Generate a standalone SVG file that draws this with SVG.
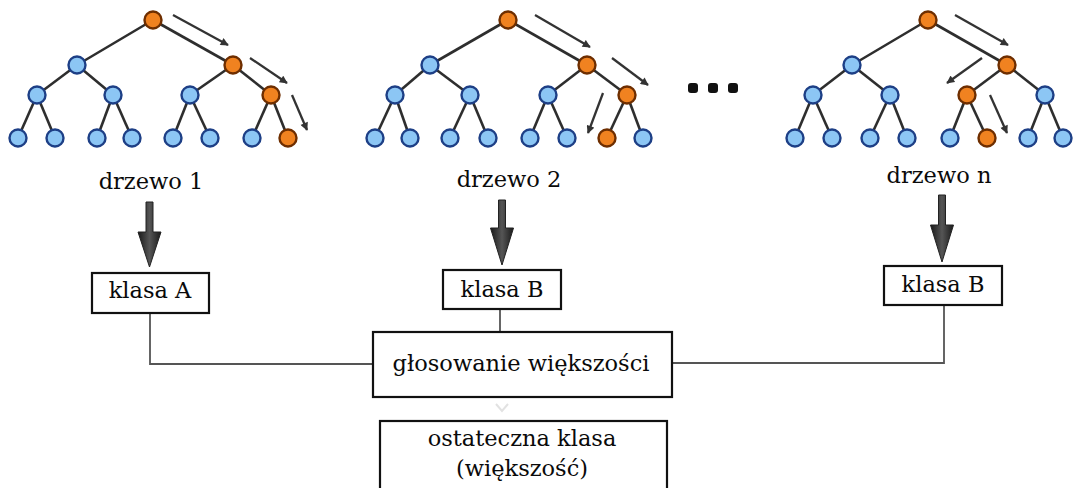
<svg xmlns="http://www.w3.org/2000/svg" width="1073" height="488" viewBox="0 0 1073 488">
<style>
.e{stroke:#2e2e2e;stroke-width:2.6;fill:none}
.b{fill:#8cc6f4;stroke:#1d3f86;stroke-width:2.4}
.o{fill:#f08220;stroke:#6e2e00;stroke-width:2.4}
.ta{stroke:#333;stroke-width:2.3;fill:none;marker-end:url(#ah)}
.t{font-family:"DejaVu Serif","Liberation Serif",serif;font-size:22.5px;fill:#0a0a0a;text-anchor:middle}
.box{fill:#fff;stroke:#111;stroke-width:2.2}
.c{stroke:#555;stroke-width:1.8;fill:none}
.big{fill:url(#g);stroke:#222;stroke-width:1}
</style>
<defs>
<marker id="ah" viewBox="0 0 10 10" refX="9" refY="5" markerWidth="9" markerHeight="8" orient="auto" markerUnits="userSpaceOnUse">
<path d="M0,0 L10,5 L0,10 z" fill="#333"/>
</marker>
<linearGradient id="g" x1="0" x2="1" y1="0" y2="0">
<stop offset="0" stop-color="#1a1a1a"/>
<stop offset="0.5" stop-color="#555"/>
<stop offset="1" stop-color="#1a1a1a"/>
</linearGradient>
</defs>
<rect width="1073" height="488" fill="#fff"/>

<g id="tree1">
<g class="e">
<line x1="153" y1="20" x2="77" y2="65"/><line x1="153" y1="20" x2="233" y2="65"/>
<line x1="77" y1="65" x2="37" y2="95"/><line x1="77" y1="65" x2="113" y2="95"/>
<line x1="233" y1="65" x2="190" y2="95"/><line x1="233" y1="65" x2="271" y2="95"/>
<line x1="37" y1="95" x2="18" y2="138"/><line x1="37" y1="95" x2="55" y2="138"/>
<line x1="113" y1="95" x2="97" y2="138"/><line x1="113" y1="95" x2="132" y2="138"/>
<line x1="190" y1="95" x2="173" y2="138"/><line x1="190" y1="95" x2="210" y2="138"/>
<line x1="271" y1="95" x2="252" y2="138"/><line x1="271" y1="95" x2="288" y2="138"/>
</g>
<circle class="o" cx="153" cy="20" r="8.5"/>
<circle class="b" cx="77" cy="65" r="8.5"/><circle class="o" cx="233" cy="65" r="8.5"/>
<circle class="b" cx="37" cy="95" r="8.5"/><circle class="b" cx="113" cy="95" r="8.5"/><circle class="b" cx="190" cy="95" r="8.5"/><circle class="o" cx="271" cy="95" r="8.5"/>
<circle class="b" cx="18" cy="138" r="8.5"/><circle class="b" cx="55" cy="138" r="8.5"/><circle class="b" cx="97" cy="138" r="8.5"/><circle class="b" cx="132" cy="138" r="8.5"/>
<circle class="b" cx="173" cy="138" r="8.5"/><circle class="b" cx="210" cy="138" r="8.5"/><circle class="b" cx="252" cy="138" r="8.5"/><circle class="o" cx="288" cy="138" r="8.5"/>
<line class="ta" x1="173" y1="15" x2="228" y2="45"/>
<line class="ta" x1="250" y1="58" x2="287" y2="83"/>
<line class="ta" x1="292" y1="95" x2="307" y2="130"/>
<text class="t" x="151" y="189">drzewo 1</text>
</g>

<g id="tree2">
<g class="e">
<line x1="508" y1="20" x2="430" y2="65"/><line x1="508" y1="20" x2="587" y2="65"/>
<line x1="430" y1="65" x2="395" y2="95"/><line x1="430" y1="65" x2="470" y2="95"/>
<line x1="587" y1="65" x2="548" y2="95"/><line x1="587" y1="65" x2="627" y2="95"/>
<line x1="395" y1="95" x2="375" y2="138"/><line x1="395" y1="95" x2="410" y2="138"/>
<line x1="470" y1="95" x2="450" y2="138"/><line x1="470" y1="95" x2="488" y2="138"/>
<line x1="548" y1="95" x2="530" y2="138"/><line x1="548" y1="95" x2="567" y2="138"/>
<line x1="627" y1="95" x2="607" y2="138"/><line x1="627" y1="95" x2="643" y2="138"/>
</g>
<circle class="o" cx="508" cy="20" r="8.5"/>
<circle class="b" cx="430" cy="65" r="8.5"/><circle class="o" cx="587" cy="65" r="8.5"/>
<circle class="b" cx="395" cy="95" r="8.5"/><circle class="b" cx="470" cy="95" r="8.5"/><circle class="b" cx="548" cy="95" r="8.5"/><circle class="o" cx="627" cy="95" r="8.5"/>
<circle class="b" cx="375" cy="138" r="8.5"/><circle class="b" cx="410" cy="138" r="8.5"/><circle class="b" cx="450" cy="138" r="8.5"/><circle class="b" cx="488" cy="138" r="8.5"/>
<circle class="b" cx="530" cy="138" r="8.5"/><circle class="b" cx="567" cy="138" r="8.5"/><circle class="o" cx="607" cy="138" r="8.5"/><circle class="b" cx="643" cy="138" r="8.5"/>
<line class="ta" x1="535" y1="15" x2="590" y2="47"/>
<line class="ta" x1="612" y1="58" x2="648" y2="85"/>
<line class="ta" x1="603" y1="93" x2="588" y2="133"/>
<text class="t" x="509" y="187">drzewo 2</text>
</g>

<g id="ellipsis" fill="#111">
<rect x="688" y="83" width="10" height="10" rx="3"/>
<rect x="708" y="83" width="10" height="10" rx="3"/>
<rect x="728" y="83" width="10" height="10" rx="3"/>
</g>

<g id="treen">
<g class="e">
<line x1="928" y1="20" x2="852" y2="65"/><line x1="928" y1="20" x2="1007" y2="65"/>
<line x1="852" y1="65" x2="813" y2="95"/><line x1="852" y1="65" x2="890" y2="95"/>
<line x1="1007" y1="65" x2="967" y2="95"/><line x1="1007" y1="65" x2="1045" y2="95"/>
<line x1="813" y1="95" x2="795" y2="138"/><line x1="813" y1="95" x2="832" y2="138"/>
<line x1="890" y1="95" x2="870" y2="138"/><line x1="890" y1="95" x2="907" y2="138"/>
<line x1="967" y1="95" x2="950" y2="138"/><line x1="967" y1="95" x2="987" y2="138"/>
<line x1="1045" y1="95" x2="1028" y2="138"/><line x1="1045" y1="95" x2="1063" y2="138"/>
</g>
<circle class="o" cx="928" cy="20" r="8.5"/>
<circle class="b" cx="852" cy="65" r="8.5"/><circle class="o" cx="1007" cy="65" r="8.5"/>
<circle class="b" cx="813" cy="95" r="8.5"/><circle class="b" cx="890" cy="95" r="8.5"/><circle class="o" cx="967" cy="95" r="8.5"/><circle class="b" cx="1045" cy="95" r="8.5"/>
<circle class="b" cx="795" cy="138" r="8.5"/><circle class="b" cx="832" cy="138" r="8.5"/><circle class="b" cx="870" cy="138" r="8.5"/><circle class="b" cx="907" cy="138" r="8.5"/>
<circle class="b" cx="950" cy="138" r="8.5"/><circle class="o" cx="987" cy="138" r="8.5"/><circle class="b" cx="1028" cy="138" r="8.5"/><circle class="b" cx="1063" cy="138" r="8.5"/>
<line class="ta" x1="955" y1="15" x2="1008" y2="45"/>
<line class="ta" x1="982" y1="58" x2="947" y2="83"/>
<line class="ta" x1="990" y1="95" x2="1007" y2="133"/>
<text class="t" x="939" y="183">drzewo n</text>
</g>

<g id="connectors">
<path class="big" d="M146,202 H153 V232 H161 L149.5,267 L138,232 H146 Z"/>
<path class="big" d="M498.5,200 H505.5 V228 H513.5 L502,265 L490.5,228 H498.5 Z"/>
<path class="big" d="M938.5,195 H945.5 V225 H953.5 L942,262 L930.5,225 H938.5 Z"/>
<polyline class="c" points="150,313 150,364 373,364"/>
<line class="c" x1="500" y1="309" x2="500" y2="332"/>
<polyline class="c" points="944,305 944,363 672,363"/>
<path d="M496,404 L502,411 L508,404" fill="none" stroke="#e2e2e2" stroke-width="2"/>
</g>

<g id="klasaA">
<rect class="box" x="92" y="273" width="117" height="40"/>
<text class="t" x="150" y="298">klasa A</text>
</g>
<g id="klasaB2">
<rect class="box" x="443" y="270" width="118" height="39"/>
<text class="t" x="502" y="297">klasa B</text>
</g>
<g id="klasaBn">
<rect class="box" x="884" y="266" width="118" height="39"/>
<text class="t" x="943" y="292">klasa B</text>
</g>
<g id="glosowanie">
<rect class="box" x="373" y="332" width="299" height="65"/>
<text class="t" x="521" y="371">głosowanie większości</text>
</g>
<g id="ostateczna">
<rect class="box" x="380" y="421" width="287" height="80"/>
<text class="t" x="522" y="446">ostateczna klasa</text>
<text class="t" x="522" y="476">(większość)</text>
</g>
</svg>
